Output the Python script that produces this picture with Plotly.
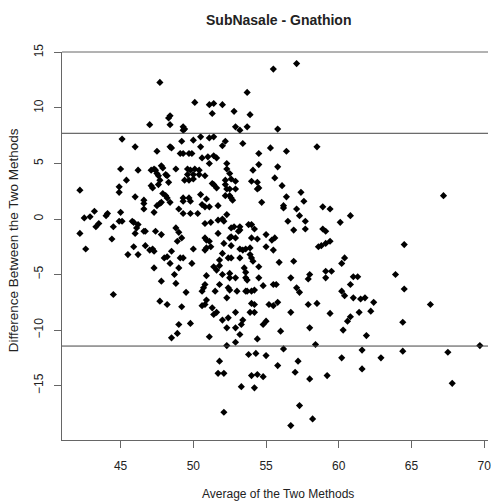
import plotly.graph_objects as go

# Average of the two methods (x) and difference between them (y)
avg = [
    47.7, 55.5, 57.1, 47.0, 48.3, 48.4, 48.4, 49.3, 49.3, 49.4,
    45.1, 46.0, 47.5, 48.4, 48.5, 49.2, 49.1, 49.3, 45.0, 46.2,
    47.1, 47.3, 47.4, 47.8, 47.9, 47.5, 47.6, 48.1, 48.2, 48.8,
    45.4, 44.9, 44.9, 42.2, 47.1, 47.2, 47.7, 48.3, 47.6, 47.9,
    48.1, 48.2, 49.4, 46.0, 46.6, 46.6, 46.6, 47.5, 47.7, 47.8,
    48.4, 49.3, 49.3, 49.0, 43.2, 44.1, 45.0, 47.3, 49.3,
    53.7, 50.1, 51.1, 51.4, 52.0, 51.3, 52.8, 53.9, 52.9, 53.2,
    53.7, 55.8, 50.0, 50.5, 51.1, 51.4, 50.5, 52.0, 52.2, 53.4,
    49.7, 49.9, 50.6, 51.0, 51.4, 51.6, 51.1, 54.5, 55.3, 56.4,
    58.5, 49.6, 49.8, 50.1, 50.4, 52.3, 52.3, 54.5, 54.1, 55.8,
    49.6, 50.0, 50.4, 50.8, 52.5, 52.2, 52.6, 52.9, 54.0, 54.4,
    55.6, 49.7, 50.0, 51.3, 51.4, 51.6, 52.2, 52.3, 52.5, 52.9,
    54.4, 54.5, 56.1, 57.4, 50.5, 52.2, 52.5, 52.6, 52.7, 56.4,
    57.6, 49.7, 49.8, 50.9, 50.6, 50.8, 51.1, 51.7, 54.7, 56.2,
    56.2, 57.1, 58.9, 59.4, 49.8, 50.3, 52.3, 57.3, 67.2, 60.8,
    42.5, 42.9, 43.5, 43.3, 42.2, 44.0, 44.5, 44.9, 45.1, 45.8,
    45.9, 46.2, 46.1, 46.0, 46.6, 46.7, 47.4, 47.8, 48.8, 49.0,
    49.2, 48.9, 44.4, 42.6, 45.9, 46.7, 47.0, 47.3, 47.2, 45.5,
    46.2, 48.5, 48.0, 48.2, 48.4, 49.1, 49.3, 47.3, 49.0, 48.7,
    47.8, 48.8, 44.5, 49.5, 47.7, 48.2, 49.2, 49.0, 48.9, 48.5,
    50.8, 51.2, 51.7, 52.0, 52.1, 56.5, 57.7, 52.6, 52.8, 53.2,
    53.2, 53.8, 54.0, 54.2, 51.7, 56.9, 57.7, 58.9, 59.1, 50.8,
    50.9, 51.1, 51.2, 50.9, 50.8, 52.5, 52.6, 52.9, 53.1, 54.0,
    54.4, 55.0, 55.4, 55.6, 52.1, 52.6, 50.0, 53.2, 53.4, 53.6,
    53.9, 53.9, 55.0, 55.5, 58.6, 58.8, 59.1, 59.4, 52.0, 51.8,
    52.4, 52.6, 53.2, 54.0, 54.1, 49.9, 51.4, 51.6, 51.8, 52.0,
    52.5, 53.5, 53.6, 54.5, 55.9, 56.9, 50.9, 52.5, 52.9, 53.6,
    53.7, 54.5, 56.7, 58.0, 57.9, 59.1, 59.5, 59.1, 50.8, 50.7,
    50.6, 51.8, 52.5, 52.4, 53.0, 53.6, 53.7, 54.0, 54.2, 54.8,
    55.5, 55.7, 57.1, 57.3, 51.5, 52.3, 50.9, 54.0, 54.2, 50.6,
    50.8, 51.3, 51.4, 51.6, 52.9, 53.9, 54.2, 55.2, 55.5, 55.8,
    56.7, 57.9, 58.5, 59.4, 49.8, 52.0, 52.4, 53.4, 53.3, 55.0,
    54.8, 52.3, 52.9, 58.0, 51.1, 53.2, 56.0, 54.4,
    60.1, 64.5, 60.4, 60.2, 61.0, 61.3, 63.9, 60.8, 64.5, 60.2,
    60.4, 61.0, 61.5, 61.8, 62.4, 66.3, 61.4, 62.2, 60.8, 60.6,
    64.4, 60.3, 61.9,
    52.3, 52.9, 58.4, 56.2, 51.8, 53.8, 54.3, 55.0, 55.8, 57.2,
    51.7, 52.1, 54.0, 54.4, 54.8, 57.0, 58.0, 59.2, 53.3, 54.2,
    57.3, 52.1, 58.2, 56.7,
    60.2, 61.6, 61.6, 62.9, 64.4, 67.5, 67.8, 69.7,
]

diff = [
    12.3, 13.5, 14.0, 8.5, 9.1, 9.3, 8.5, 8.3, 8.0, 8.1,
    7.2, 6.5, 6.1, 6.5, 6.4, 7.0, 5.9, 5.9, 4.5, 4.4,
    4.4, 4.5, 4.4, 4.8, 4.6, 4.1, 3.9, 4.0, 3.9, 4.5,
    3.5, 2.9, 2.4, 2.6, 3.0, 2.8, 3.5, 3.3, 3.1, 2.3,
    2.1, 1.9, 3.5, 2.0, 1.7, 1.4, 0.9, 1.2, 1.4, 1.5,
    1.5, 1.9, 1.6, 0.9, 0.7, 0.5, 0.6, 0.6, 0.5,
    11.4, 10.5, 10.3, 10.4, 10.3, 9.5, 9.7, 9.4, 8.3, 8.0,
    8.3, 8.1, 7.1, 7.4, 7.3, 7.4, 6.5, 6.6, 7.0, 6.8,
    5.9, 5.9, 5.5, 5.6, 5.7, 5.5, 5.0, 5.9, 6.4, 6.1,
    6.5, 4.5, 4.4, 4.5, 4.4, 5.0, 4.5, 4.9, 4.4, 4.7,
    4.0, 4.0, 4.0, 3.9, 4.1, 3.5, 3.6, 3.4, 3.4, 3.3,
    3.7, 3.5, 3.6, 3.2, 3.1, 2.8, 3.1, 2.7, 2.7, 2.7,
    2.7, 2.8, 3.0, 2.4, 2.2, 2.1, 2.1, 1.9, 1.7, 2.0,
    1.6, 1.9, 1.6, 1.8, 1.3, 1.1, 1.1, 1.2, 1.5, 1.2,
    1.0, 0.9, 1.1, 0.9, 0.5, 0.5, 0.4, 0.3, 2.1, 0.3,
    0.1, 0.2, -0.4, -0.7, -1.3, 0.3, -0.7, -0.2, -0.2, -0.2,
    -0.3, -0.5, -0.8, -1.3, -1.1, -1.1, -1.1, -1.4, -0.8, -1.2,
    -1.7, -2.0, -1.8, -2.7, -2.5, -2.4, -2.8, -2.9, -2.7, -3.2,
    -3.2, -2.9, -3.5, -3.4, -4.0, -3.5, -3.5, -4.4, -4.4, -5.0,
    -5.6, -5.8, -6.8, -6.6, -7.4, -7.7, -7.9, -9.5, -10.3, -10.7,
    -0.4, -0.3, -0.1, 0.0, -0.2, -0.2, -0.2, -0.8, -0.7, -0.7,
    -1.0, -0.5, -0.5, -0.9, -1.3, -1.0, -0.9, -0.9, -1.1, -1.7,
    -1.9, -2.0, -2.5, -2.6, -2.8, -1.7, -1.6, -1.7, -1.1, -1.7,
    -1.8, -1.4, -1.9, -1.7, -2.2, -2.4, -2.7, -2.7, -2.8, -2.7,
    -2.6, -3.2, -2.5, -2.8, -2.5, -2.4, -2.2, -2.0, -3.1, -3.7,
    -3.5, -3.5, -3.5, -3.5, -3.8, -4.0, -4.3, -4.6, -4.2, -5.0,
    -4.9, -4.4, -4.8, -4.3, -3.9, -3.8, -5.1, -5.3, -5.3, -5.3,
    -5.5, -5.3, -5.3, -5.0, -5.4, -4.7, -4.7, -5.3, -5.9, -6.2,
    -6.5, -5.9, -6.4, -6.2, -6.5, -6.5, -6.5, -6.5, -6.4, -6.0,
    -5.9, -5.9, -6.2, -6.6, -6.5, -7.1, -7.3, -7.6, -7.7, -7.8,
    -7.7, -8.0, -8.6, -8.4, -8.4, -8.4, -8.4, -7.7, -7.8, -7.5,
    -8.4, -7.7, -7.6, -8.5, -9.4, -9.1, -8.9, -9.1, -9.5, -9.2,
    -9.5, -9.8, -9.8, -9.8, -10.6, -10.4, -10.1, -10.8,
    -0.3, -2.3, -3.5, -4.0, -5.2, -5.2, -5.0, -5.9, -6.3, -6.5,
    -6.9, -7.1, -7.2, -7.1, -7.5, -7.7, -8.4, -8.3, -8.8, -9.2,
    -9.3, -10.0, -10.5,
    -11.4, -11.1, -11.3, -11.7, -12.8, -12.2, -12.1, -12.3, -13.2, -12.8,
    -13.9, -13.9, -14.1, -14.0, -14.2, -13.8, -14.4, -14.1, -15.1, -15.2,
    -16.8, -17.4, -18.0, -18.6,
    -12.5, -11.8, -13.5, -12.5, -11.9, -12.0, -14.8, -11.4,
]

assert len(avg) == len(diff), (len(avg), len(diff))

upper_loa = 7.72
lower_loa = -11.44

x_ticks = [45, 50, 55, 60, 65, 70]
y_ticks = [-15, -10, -5, 0, 5, 10, 15]

title_text = "SubNasale - Gnathion"
x_title = "Average of the Two Methods"
y_title = "Difference Between the Two Methods"

FONT = "Liberation Sans, Arial, sans-serif"
TXT = "#222222"
LINE = "#666666"

fig = go.Figure()
fig.add_trace(go.Scatter(
    x=avg, y=diff, mode="markers",
    marker=dict(symbol="diamond", size=5.5, color="black", line=dict(width=0)),
    hoverinfo="x+y", showlegend=False,
))

for val in (upper_loa, lower_loa):
    fig.add_shape(type="line", xref="paper", yref="y", x0=0, x1=1, y0=val, y1=val,
                  line=dict(color="#444444", width=1))

# top border of the box
fig.add_shape(type="line", xref="paper", yref="paper", x0=0, x1=1, y0=1, y1=1,
              line=dict(color=LINE, width=1))

fig.update_layout(
    width=491, height=502,
    margin=dict(l=62, r=0, t=52, b=62),
    paper_bgcolor="white", plot_bgcolor="white",
    font=dict(family=FONT, size=12, color=TXT),
    xaxis=dict(range=[40.97, 70.26], tickvals=x_ticks, ticks="outside", ticklen=7,
               tickcolor=LINE, showline=True, linecolor=LINE, linewidth=1,
               showgrid=False, zeroline=False, ticklabelstandoff=8,
               ticklabeloverflow="allow",
               tickfont=dict(size=12, color=TXT, family=FONT)),
    yaxis=dict(range=[-19.9, 15.04], tickvals=y_ticks, ticks="outside", ticklen=7,
               tickcolor=LINE, showline=True, linecolor=LINE, linewidth=1,
               showgrid=False, zeroline=False, tickangle=-90, ticklabelstandoff=6,
               tickfont=dict(size=12, color=TXT, family=FONT)),
    annotations=[
        dict(text="<b>" + title_text + "</b>", xref="paper", yref="paper",
             x=(280 - 62) / 429, y=(440 - 20) / 388, xanchor="center", yanchor="middle",
             showarrow=False, font=dict(size=14, color=TXT, family=FONT)),
        dict(text=x_title, xref="paper", yref="paper",
             x=(280 - 62) / 429, y=(440 - 494) / 388, xanchor="center", yanchor="middle",
             showarrow=False, font=dict(size=12, color=TXT, family=FONT)),
        dict(text=y_title, xref="paper", yref="paper", textangle=-90,
             x=(13 - 62) / 429, y=(440 - 240) / 388, xanchor="center", yanchor="middle",
             showarrow=False, font=dict(size=13.5, color=TXT, family=FONT)),
    ],
)

fig.write_html("out.html")
